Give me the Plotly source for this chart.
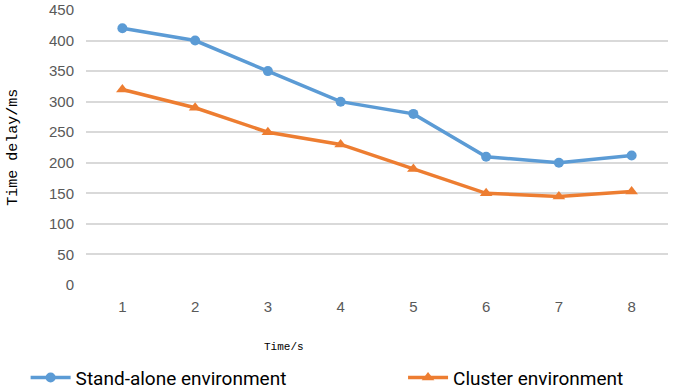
import plotly.graph_objects as go

time_s = ["1", "2", "3", "4", "5", "6", "7", "8"]
standalone = [420, 400, 350, 300, 280, 210, 200, 212]
cluster = [320, 290, 250, 230, 190, 150, 145, 153]
y_ticks = [0, 50, 100, 150, 200, 250, 300, 350, 400, 450]

fig = go.Figure()
fig.add_trace(go.Scatter(x=time_s, y=standalone, name="Stand-alone environment",
                         mode="lines+markers", legend="legend",
                         line=dict(color="#5B9BD5", width=3.5),
                         marker=dict(symbol="circle", size=10, color="#5B9BD5")))
fig.add_trace(go.Scatter(x=time_s, y=cluster, name="Cluster environment",
                         mode="lines+markers", legend="legend2",
                         line=dict(color="#ED7D31", width=3.5),
                         marker=dict(symbol="triangle-up", size=11, color="#ED7D31")))

legend_font = dict(family="Roboto", size=19, color="#000000")
fig.update_layout(
    width=674, height=389,
    margin=dict(l=86, r=6, t=10, b=104, autoexpand=False),
    paper_bgcolor="white", plot_bgcolor="white",
    xaxis=dict(type="category", range=[-0.5, 7.5], showgrid=False, showline=False,
               ticks="outside", tickcolor="white", ticklen=8,
               tickfont=dict(family="Liberation Sans", size=15, color="#595959")),
    yaxis=dict(range=[0, 450], tickvals=y_ticks, showgrid=True, gridcolor="#D9D9D9",
               gridwidth=1.5, zeroline=False, showline=False, ticks="outside",
               tickcolor="white", ticklen=8,
               tickfont=dict(family="Liberation Sans", size=15, color="#595959")),
    showlegend=True,
    legend=dict(orientation="h", xref="container", yref="container", x=0.038, y=0.078,
                xanchor="left", yanchor="top", font=legend_font, itemwidth=40),
    legend2=dict(orientation="h", xref="container", yref="container", x=0.598, y=0.078,
                 xanchor="left", yanchor="top", font=legend_font, itemwidth=40),
    annotations=[
        dict(text="Time delay/ms", xref="paper", yref="paper", x=-0.125, y=0.5,
             textangle=-90, showarrow=False, xanchor="center", yanchor="middle",
             font=dict(family="Liberation Mono", size=15, color="#000000")),
        dict(text="Time/s", xref="paper", yref="paper", x=0.34, y=-0.225,
             showarrow=False, xanchor="center", yanchor="middle",
             font=dict(family="Liberation Mono", size=11, color="#000000")),
    ],
)

fig.write_html("out.html", config={"displayModeBar": False},
               post_script="document.body.style.margin='0px';")
